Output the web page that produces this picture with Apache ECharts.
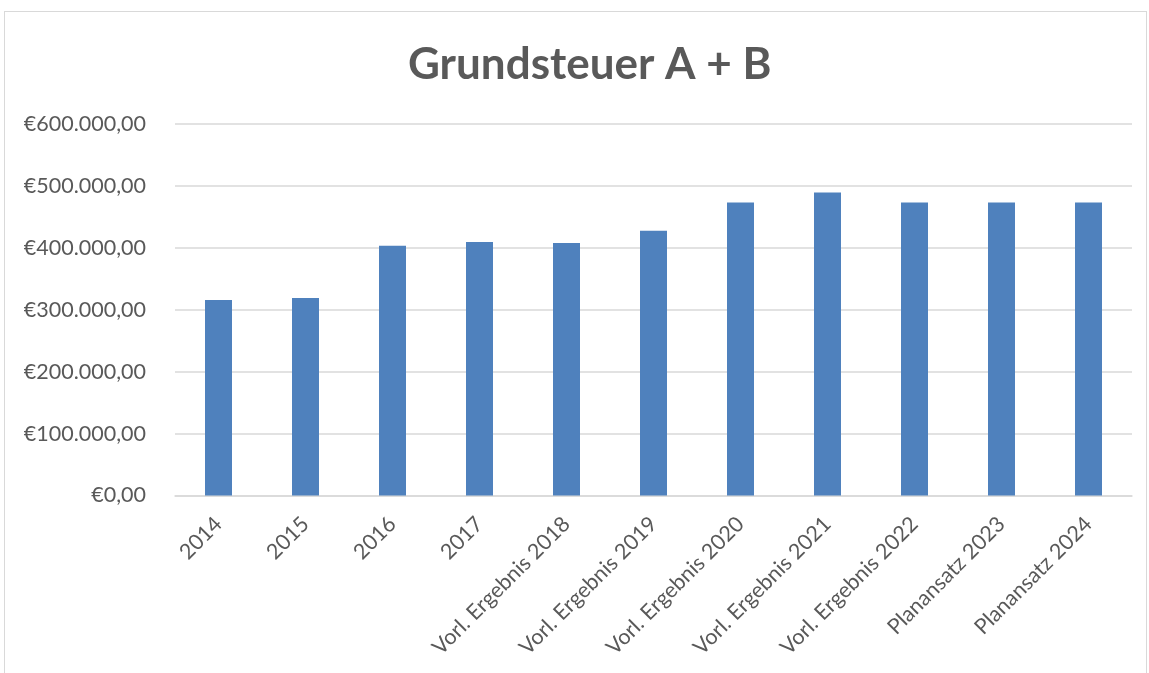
<!DOCTYPE html>
<html><head><meta charset="utf-8">
<script src="https://cdn.jsdelivr.net/npm/echarts@6/dist/echarts.min.js"></script>
<style>html,body{margin:0;padding:0;background:#fff}#c{width:1149px;height:673px}
#frame{position:absolute;left:4px;top:11px;width:1141px;height:680px;border:1px solid #d9d9d9;pointer-events:none}</style>
</head><body><div id="c"></div><div id="frame"></div>
<script>
const categories = ['2014','2015','2016','2017','Vorl. Ergebnis 2018','Vorl. Ergebnis 2019','Vorl. Ergebnis 2020','Vorl. Ergebnis 2021','Vorl. Ergebnis 2022','Planansatz 2023','Planansatz 2024'];
const values = [315800, 319000, 403500, 409400, 407700, 427700, 473400, 489500, 473400, 473400, 473400];
const yTicks = [0, 100000, 200000, 300000, 400000, 500000, 600000];

function fmtEuro(v){
  const s = v.toFixed(2).split('.');
  const int = s[0].replace(/\B(?=(\d{3})+(?!\d))/g, '.');
  return '€' + int + ',' + s[1];
}
const chart = echarts.init(document.getElementById('c'));
chart.setOption({
  animation:false,
  title:{text:'Grundsteuer A + B', left:403, top:38,
    textStyle:{fontFamily:'Lato', fontWeight:'bold', fontSize:44, color:'#595959'}},
  grid:{left:175, right:17, top:124, bottom:177.5, containLabel:false},
  xAxis:{type:'category', data:categories,
    axisLine:{lineStyle:{color:'#d9d9d9', width:1.5}},
    axisTick:{show:false},
    axisLabel:{rotate:45, interval:0, fontFamily:'Lato', fontSize:21.5, color:'#595959', margin:25}},
  yAxis:{type:'value', min:yTicks[0], max:yTicks[yTicks.length-1], interval:100000,
    axisLine:{show:false}, axisTick:{show:false},
    splitLine:{lineStyle:{color:'#d9d9d9', width:1.5}},
    axisLabel:{formatter:fmtEuro, fontFamily:'Lato', fontSize:21.5, color:'#595959', margin:29}},
  series:[{type:'bar', data:values, barWidth:27, itemStyle:{color:'#4f81bd'}}]
});
</script></body></html>
